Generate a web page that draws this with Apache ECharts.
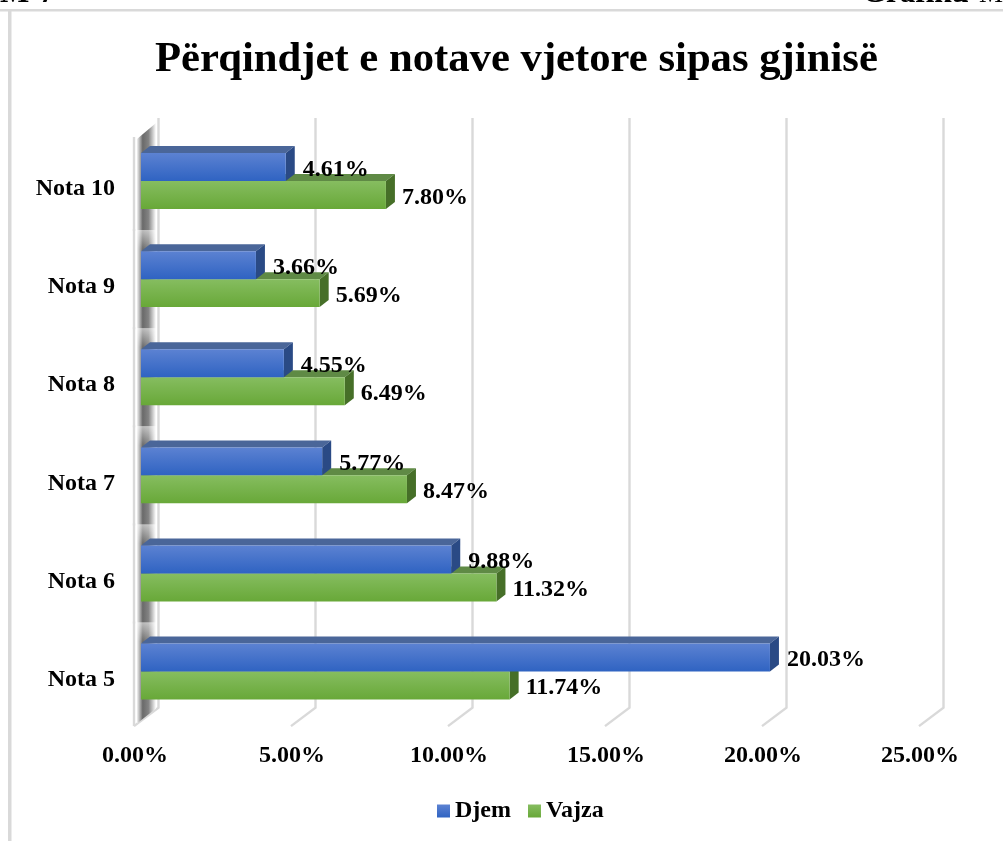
<!DOCTYPE html>
<html><head><meta charset="utf-8">
<style>html,body{margin:0;padding:0;background:#fff}#c{width:1003px;height:841px}</style>
<script src="https://cdn.jsdelivr.net/npm/echarts@6/dist/echarts.min.js"></script>
</head><body><div id="c"></div>
<script>
const titleText = 'Përqindjet e notave vjetore sipas gjinisë';
const categories = ['Nota 5','Nota 6','Nota 7','Nota 8','Nota 9','Nota 10'];
const djem = [20.03, 9.88, 5.77, 4.55, 3.66, 4.61];
const vajza = [11.74, 11.32, 8.47, 6.49, 5.69, 7.80];
const xTicks = [0,5,10,15,20,25];
const FONT = '"Liberation Serif","Times New Roman",serif';
const fmt = v => v.toFixed(2) + '%';
const grad = (a,b) => new echarts.graphic.LinearGradient(0,0,0,1,[{offset:0,color:a},{offset:1,color:b}]);

const DX = 9, DY = 7;               // bar depth
function barRender(side, c){
  return function(params, api){
    const v = api.value(0), i = api.value(1);
    const p0 = api.coord([0,i]), p1 = api.coord([v,i]);
    const band = api.size([0,1])[1];
    const h = band*0.285;
    const x0=p0[0], x1=p1[0];
    const y0 = side<0 ? p0[1]-h : p0[1];
    const y1 = y0+h;
    return {type:'group',children:[
      {type:'polygon',shape:{points:[[x0,y0],[x0+DX,y0-DY],[x1+DX,y0-DY],[x1,y0]]},style:{fill:c.top}},
      {type:'polygon',shape:{points:[[x1,y0],[x1+DX,y0-DY],[x1+DX,y1-DY],[x1,y1]]},style:{fill:c.side}},
      {type:'rect',shape:{x:x0,y:y0,width:x1-x0,height:h},style:{fill:grad(c.a,c.b)}},
      {type:'text',x:x1+c.lx,y:(y0+y1)/2+2.5,z2:10,style:{text:fmt(v),fill:'#000',font:'bold 24px '+FONT,textAlign:'left',textVerticalAlign:'middle'}}
    ]};
  };
}
const blue={top:'#4A6699',side:'#2A4A85',a:'#5C82D2',b:'#2F63C2',lx:17};
const green={top:'#5F8A45',side:'#466F28',a:'#86BD60',b:'#68A838',lx:16};

const option = {
  animation:false,
  backgroundColor:'#fff',
  title:{text:titleText,left:150,top:33,textStyle:{fontFamily:FONT,fontWeight:'bold',fontSize:42.7,color:'#000'}},
  legend:{left:437,top:799,padding:0,itemWidth:13,itemHeight:13,itemGap:17,selectedMode:false,
    textStyle:{fontFamily:FONT,fontWeight:'bold',fontSize:24,color:'#000'},
    data:[{name:'Djem',icon:'rect',itemStyle:{color:grad(blue.a,blue.b)}},{name:'Vajza',icon:'rect',itemStyle:{color:grad(green.a,green.b)}}]},
  grid:{left:141,width:785,top:132,height:588.6},
  xAxis:{type:'value',min:0,max:25,interval:5,splitLine:{show:false},axisLine:{show:false},axisTick:{show:false},
    axisLabel:{margin:23,color:'#000',fontFamily:FONT,fontWeight:'bold',fontSize:24,padding:[0,12,0,0],formatter:v=>fmt(v)}},
  yAxis:{type:'category',data:categories,axisLine:{show:false},axisTick:{show:false},
    axisLabel:{margin:26,color:'#000',fontFamily:FONT,fontWeight:'bold',fontSize:24,verticalAlign:'top',lineHeight:16}},
  graphic:[
    {type:'rect',shape:{x:0,y:9,width:1003,height:2.5},style:{fill:'#d9d9d9'},silent:true},
    {type:'rect',shape:{x:8,y:10,width:3.5,height:831},style:{fill:'#d9d9d9'},silent:true},
    {type:'text',x:0,y:-22,style:{text:'M-7',fill:'#000',font:'bold 31px '+FONT}},
    {type:'text',x:862,y:-22,style:{text:'Grafiku',fill:'#000',font:'bold 31px '+FONT}},
    {type:'text',x:979,y:-19,style:{text:'M',fill:'#000',font:'27px '+FONT}}
  ],
  series:[
    {type:'custom',name:'grid',z:1,silent:true,data:xTicks.map(t=>[t]),encode:{x:0},clip:false,
     renderItem(params,api){
       const x=api.coord([api.value(0),0])[0];
       const cs=params.coordSys, top=cs.y-14, back=cs.y+cs.height-13, fr=cs.y+cs.height+5.5;
       return {type:'polyline',shape:{points:[[x+17.5,top],[x+17.5,back],[x-7,fr]]},style:{stroke:'#d9d9d9',lineWidth:2.4,fill:null}};
     }},
    {type:'custom',name:'wall',z:2,silent:true,data:categories.map((c,i)=>[i]),encode:{y:0},clip:false,
     renderItem(params,api){
       const i=api.value(0), cs=params.coordSys, y=api.coord([0,i])[1], band=api.size([0,1])[1];
       const l=cs.x, ch=[];
       const top=y-band/2, bot=y+band/2;
       const L=l-4, R=l+15;
       const pts = i===5
         ? [[L,top+7],[R,top-9],[R,bot],[L,bot]]
         : i===0
           ? [[L,top],[R,top],[R,bot-12],[L,bot+3]]
           : [[L,top],[R,top],[R,bot],[L,bot]];
       ch.push({type:'polygon',shape:{points:pts},
         style:{fill:new echarts.graphic.LinearGradient(0,0,1,0,[{offset:0,color:'#f2f2f2'},{offset:0.3,color:'#6a6a6a'},{offset:0.6,color:'#828282'},{offset:1,color:'#ffffff'}])}});
       if(i<5) ch.push({type:'rect',shape:{x:L,y:top-19,width:R-L,height:38},
         style:{fill:new echarts.graphic.LinearGradient(0,0,0,1,[{offset:0,color:'rgba(255,255,255,0)'},{offset:0.5,color:'rgba(255,255,255,0.55)'},{offset:1,color:'rgba(255,255,255,0)'}])}});
       ch.push({type:'line',shape:{x1:l-7,y1:i===5?top+5:top-1,x2:l-7,y2:i===0?cs.y+cs.height+5.5:bot+1},style:{stroke:'#d9d9d9',lineWidth:2.4}});
       return {type:'group',children:ch};
     }},
    {type:'custom',name:'Djem',z:5,data:djem.map((v,i)=>[v,i]),encode:{x:0,y:1},clip:false,renderItem:barRender(-1,blue),itemStyle:{color:blue.b}},
    {type:'custom',name:'Vajza',z:4,data:vajza.map((v,i)=>[v,i]),encode:{x:0,y:1},clip:false,renderItem:barRender(1,green),itemStyle:{color:green.b}}
  ]
};
echarts.init(document.getElementById('c'),null,{renderer:'canvas'}).setOption(option);
</script></body></html>
